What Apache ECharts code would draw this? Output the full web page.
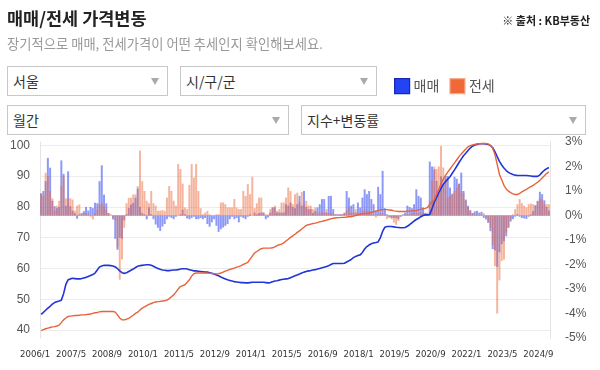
<!DOCTYPE html>
<html><head><meta charset="utf-8">
<script src="https://cdn.jsdelivr.net/npm/echarts@6/dist/echarts.min.js"></script>
<style>
html,body{margin:0;padding:0;background:#fff;}
#wrap{position:relative;width:600px;height:370px;overflow:hidden;font-family:'Noto Sans CJK KR','Noto Sans',sans-serif;}
#chart{position:absolute;left:0;top:0;width:600px;height:370px;}
.t{position:absolute;white-space:nowrap;z-index:3;}
.sel{position:absolute;box-sizing:border-box;border:1px solid #c8c8c8;background:#fff;height:30px;font-size:14px;color:#333;line-height:28px;padding-left:5px;z-index:3;}
.sel .ar{position:absolute;right:8px;top:11px;width:0;height:0;border-left:4px solid transparent;border-right:4px solid transparent;border-top:7px solid #aaa;}
</style></head>
<body>
<div id="wrap">
  <div id="chart"></div>
  <div class="t" style="left:7px;top:6px;font-size:17.5px;font-weight:bold;color:#222;line-height:24px;">매매/전세 가격변동</div>
  <div class="t" style="left:7px;top:35px;font-size:13.3px;color:#999;line-height:18px;">장기적으로 매매, 전세가격이 어떤 추세인지 확인해보세요.</div>
  <div class="t" style="right:10px;top:12px;font-size:11px;font-weight:bold;color:#222;line-height:16px;">※ 출처 : KB부동산</div>
  <div class="sel" style="left:7px;top:66px;width:161px;">서울<div class="ar"></div></div>
  <div class="sel" style="left:180px;top:66px;width:197px;">시/구/군<div class="ar"></div></div>
  <div class="sel" style="left:7px;top:105px;width:282px;">월간<div class="ar"></div></div>
  <div class="sel" style="left:301px;top:105px;width:285px;">지수+변동률<div class="ar"></div></div>
</div>
<script>
// ---- data ----
const startYear = 2006;
const monthCount = 227; // 2006/1 ~ 2024/11
const months = [];
for (let k = 0; k < monthCount; k++) {
  months.push((startYear + Math.floor(k / 12)) + '/' + (k % 12 + 1));
}
const xTickLabels = ['2006/1','2007/5','2008/9','2010/1','2011/5','2012/9','2014/1','2015/5','2016/9','2018/1','2019/5','2020/9','2022/1','2023/5','2024/9'];
const leftTicks = [40, 50, 60, 70, 80, 90, 100];

// 매매 지수
const saleIdx = [
45.1,45.7,46.4,47.1,47.7,48.4,48.9,49.2,49.4,49.7,51.8,54.8,
56.3,56.6,56.8,56.7,56.6,56.6,56.7,56.9,57.1,57.4,57.7,58.0,
58.5,59.5,60.5,60.8,61.0,61.0,61.0,60.9,60.8,60.5,59.9,59.2,
58.6,58.4,58.6,59.0,59.4,59.8,60.3,60.7,60.9,61.0,61.1,61.2,
61.2,61.0,60.7,60.3,60.0,59.7,59.5,59.4,59.3,59.3,59.4,59.5,
59.5,59.6,59.8,59.9,59.9,59.8,59.6,59.4,59.2,59.2,59.1,59.0,
58.9,58.8,58.8,58.6,58.4,58.2,57.9,57.6,57.2,56.9,56.6,56.3,
56.1,55.9,55.7,55.6,55.5,55.4,55.4,55.3,55.3,55.4,55.5,55.5,
55.5,55.5,55.5,55.5,55.4,55.3,55.4,55.7,55.9,56.0,56.2,56.4,
56.5,56.6,56.7,57.0,57.3,57.6,57.9,58.2,58.5,58.8,59.0,59.2,
59.3,59.5,59.6,59.8,60.0,60.2,60.4,60.6,60.9,61.3,61.6,61.6,
61.6,61.6,61.6,61.7,62.1,62.5,62.9,63.5,63.9,64.2,64.4,65.2,
66.3,67.1,67.6,68.0,68.3,68.4,68.6,70.0,72.0,73.4,73.6,73.6,
73.6,73.5,73.4,73.3,73.2,73.2,73.3,73.7,74.2,74.8,75.4,75.9,
76.3,76.8,77.2,77.4,77.4,77.5,79.5,81.5,83.0,84.6,86.0,87.3,
88.2,89.0,89.8,90.9,92.0,93.2,94.4,95.5,96.6,97.4,98.3,99.1,
99.7,100.1,100.3,100.5,100.5,100.5,100.4,100.3,99.9,99.2,97.9,96.3,
94.8,93.6,92.6,91.8,91.2,90.8,90.5,90.3,90.2,90.2,90.2,90.2,
90.2,90.1,90.0,89.9,89.9,89.9,90.4,91.2,91.9,92.4,92.8
];
// 전세 지수
const jeonseIdx = [
39.8,40.1,40.4,40.6,40.8,41.0,41.1,41.3,41.6,42.4,43.3,43.9,
44.4,44.5,44.6,44.7,44.7,44.8,44.9,44.9,45.0,45.1,45.2,45.4,
45.6,45.7,45.9,46.0,46.0,46.0,46.0,46.0,46.0,45.8,44.9,43.9,
43.3,43.3,43.5,43.8,44.3,44.8,45.4,45.8,46.5,47.1,47.5,47.9,
48.3,48.6,48.9,49.1,49.2,49.3,49.4,49.5,49.7,50.2,50.8,51.4,
52.3,53.3,54.1,54.4,54.7,55.5,56.3,57.5,58.3,58.5,58.5,58.5,
58.5,58.5,58.5,58.4,58.4,58.3,58.2,58.3,58.5,58.8,59.1,59.4,
59.7,59.9,60.1,60.4,60.6,60.9,61.3,61.6,62.0,63.0,64.0,65.0,
65.5,66.0,66.4,66.6,66.6,66.6,66.6,66.7,67.0,67.4,67.7,67.9,
68.3,68.9,69.5,70.1,70.6,71.1,71.7,72.2,72.8,73.4,74.0,74.2,
74.4,74.6,74.7,74.9,75.1,75.3,75.5,75.7,75.9,76.1,76.3,76.4,
76.5,76.5,76.6,76.6,76.7,76.8,76.8,77.0,77.2,77.4,77.6,77.8,
77.8,77.9,78.0,78.2,78.4,78.6,78.8,79.0,79.1,79.1,79.1,79.0,
78.9,78.7,78.6,78.5,78.5,78.5,78.5,78.6,78.6,78.7,78.7,78.8,
79.0,79.2,79.4,79.5,79.8,80.8,81.6,82.3,84.0,85.7,87.5,89.0,
90.2,91.3,92.3,93.3,94.3,95.3,96.3,97.2,98.0,98.8,99.5,99.9,
100.1,100.3,100.4,100.5,100.6,100.6,100.6,100.4,100.0,99.0,97.0,93.8,
90.5,88.8,87.0,85.8,85.1,84.6,84.2,84.0,84.0,84.4,84.9,85.3,
85.7,86.2,86.6,87.0,87.5,88.0,88.6,89.4,90.1,90.8,91.4
];
// 매매 변동률 (%)
const saleChg = [
0.9,1.0,1.4,2.35,1.95,0.6,0.38,0.3,0.35,2.25,1.7,0.4,
1.8,0.38,0.2,0.1,-0.13,0.05,0.1,0.18,0.35,0.2,0.35,0.3,
0.52,0.5,1.4,2.05,0.85,0.5,0.1,0.0,-0.16,-0.95,-1.4,-0.9,
-0.95,-0.2,0.05,0.31,0.45,0.52,0.72,1.1,0.35,0.1,0.05,-0.16,
0.33,0.05,-0.15,-0.37,-0.5,-0.63,-0.45,-0.35,-0.15,-0.05,-0.1,-0.15,
-0.05,0.0,0.05,0.24,0.05,-0.12,-0.15,-0.1,-0.05,-0.15,-0.15,-0.1,
-0.15,-0.1,-0.35,-0.46,-0.28,-0.15,-0.42,-0.67,-0.56,-0.49,-0.42,-0.35,
-0.15,-0.05,-0.15,-0.1,-0.28,-0.05,-0.1,-0.15,-0.05,0.05,0.0,0.12,
0.05,0.1,0.12,0.12,-0.15,-0.08,0.12,0.33,0.33,0.12,0.12,0.12,
0.12,0.46,0.4,0.53,0.35,0.3,0.46,0.8,0.4,1.0,0.35,0.26,
0.26,0.1,0.19,0.33,0.46,0.67,0.67,0.12,0.8,0.8,0.26,0.05,
0.05,0.05,0.05,0.1,1.0,0.73,0.4,0.46,0.12,0.53,0.33,0.73,
1.07,0.87,1.0,0.67,0.46,0.2,1.17,0.87,1.82,0.3,0.05,-0.08,
-0.1,-0.1,-0.1,-0.15,-0.05,0.05,0.12,0.4,0.35,0.3,0.46,1.07,
0.8,0.73,0.33,0.1,0.05,2.2,2.0,1.88,1.41,0.92,1.6,1.33,
1.61,1.61,1.14,0.87,1.58,1.5,1.3,1.75,1.0,0.65,0.4,0.22,
0.1,0.17,0.19,0.12,0.15,-0.1,-0.16,-0.3,-0.64,-1.37,-1.42,-2.1,
-1.5,-1.17,-1.05,-0.85,-0.5,-0.25,-0.15,-0.05,0.05,-0.05,-0.1,-0.12,
-0.14,-0.05,0.04,0.18,0.42,0.6,0.97,0.87,0.62,0.35,0.2
];
// 전세 변동률 (%)
const jeonseChg = [
0.9,0.8,1.74,1.6,1.0,0.7,0.2,0.4,0.6,1.2,1.6,0.7,
0.7,0.7,0.65,0.2,0.4,0.45,0.05,0.1,0.1,0.05,-0.05,-0.16,
0.1,0.25,0.45,0.5,0.38,0.25,0.1,0.05,-0.05,-0.2,-1.3,-2.62,
-1.8,-0.5,0.5,0.72,0.72,0.86,0.86,1.2,2.65,1.4,1.0,0.6,
0.5,1.0,0.5,0.4,0.19,0.2,0.22,0.19,0.73,1.2,1.0,0.6,
0.4,2.1,1.9,1.3,0.33,0.26,1.25,2.1,1.55,2.1,1.0,0.3,
0.05,0.12,0.19,0.05,0.0,0.0,0.05,0.05,0.53,0.53,0.46,0.33,
0.33,0.33,0.67,0.33,0.26,0.26,1.0,0.8,1.28,0.87,1.58,0.3,
0.5,0.73,0.73,0.12,0.05,0.05,0.26,0.33,0.4,0.19,0.26,0.53,
0.53,0.73,1.14,1.0,0.46,0.87,0.93,0.53,0.96,0.46,0.6,0.4,
0.4,0.26,0.33,0.12,0.12,0.12,0.12,0.26,0.12,0.1,0.08,0.05,
0.05,0.05,0.05,0.12,0.2,0.33,0.12,0.12,0.26,0.12,0.05,0.2,
0.26,0.19,0.19,0.1,0.05,-0.08,0.05,0.1,0.1,0.05,-0.15,-0.05,
-0.15,-0.29,-0.38,-0.22,-0.05,0.0,0.05,0.05,0.05,0.1,0.1,0.12,
0.12,0.12,0.12,0.12,0.12,0.6,1.42,2.0,1.9,2.0,2.84,1.96,
1.5,0.73,0.8,0.9,1.0,1.14,1.3,1.0,0.92,0.6,0.33,0.2,
0.1,0.05,0.04,0.02,0.05,0.1,-0.05,-0.25,-0.5,-1.2,-2.07,-4.0,
-2.65,-1.86,-1.8,-0.7,-0.49,-0.15,0.05,0.26,0.46,0.67,0.5,0.4,
0.33,0.46,0.49,0.46,0.4,0.58,0.7,0.65,0.46,0.46,0.46
];

const FONT = "'Noto Sans CJK KR','Noto Sans',sans-serif";
const chart = echarts.init(document.getElementById('chart'), null, {renderer: 'canvas'});
chart.setOption({
  animation: false,
  textStyle: {fontFamily: FONT},
  legend: {
    left: 389, top: 73, itemWidth: 15, itemHeight: 15, itemGap: 10, selectedMode: false,
    textStyle: {fontSize: 14, color: '#555', fontFamily: FONT, padding: [0, 0, 0, -1]},
    data: [
      {name: '매매', icon: 'rect', itemStyle: {color: '#2443f5', opacity: 1, borderColor: '#1428b0', borderWidth: 1.2}},
      {name: '전세', icon: 'rect', itemStyle: {color: '#f06838', opacity: 1, borderColor: '#f7ab8c', borderWidth: 1.2}}
    ]
  },
  grid: {left: 40, right: 50, top: 142, bottom: 32},
  xAxis: {
    type: 'category', data: months, boundaryGap: true,
    axisLine: {lineStyle: {color: '#dcdcdc'}},
    axisTick: {show: false},
    axisLabel: {
      interval: function (i, v) { return xTickLabels.indexOf(v) >= 0; },
      fontSize: 9.5, color: '#333', margin: 12, padding: [0, 12, 0, 0],
      fontFamily: "'Liberation Sans Narrow','DejaVu Sans Condensed','Liberation Sans',sans-serif"
    },
    splitLine: {show: false}
  },
  yAxis: [
    {
      type: 'value', position: 'left', min: 37.4, max: 101.07,
      axisLine: {show: true, lineStyle: {color: '#e4e4e4'}},
      axisTick: {show: false, customValues: leftTicks},
      axisLabel: {customValues: leftTicks, fontSize: 12, color: '#555', margin: 10, fontFamily: "'Liberation Sans',sans-serif"},
      splitLine: {show: true, lineStyle: {color: '#ececec'}}
    },
    {
      type: 'value', position: 'right', min: -5, max: 3, interval: 1,
      axisLine: {show: true, lineStyle: {color: '#e4e4e4'}},
      axisTick: {show: false},
      axisLabel: {formatter: '{value}%', fontSize: 12, color: '#555', margin: 15, fontFamily: "'Liberation Sans',sans-serif"},
      splitLine: {show: false}
    }
  ],
  series: [
    {name: '매매', type: 'bar', yAxisIndex: 1, data: saleChg, barGap: '-100%', barCategoryGap: '12%',
     itemStyle: {color: 'rgba(50,70,240,0.55)'}},
    {name: '전세', type: 'bar', yAxisIndex: 1, data: jeonseChg, barGap: '-100%', barCategoryGap: '12%',
     itemStyle: {color: 'rgba(236,106,60,0.5)'}},
    {name: '매매지수', type: 'line', yAxisIndex: 0, data: saleIdx, showSymbol: false, z: 5,
     lineStyle: {color: '#2236d8', width: 1.6}},
    {name: '전세지수', type: 'line', yAxisIndex: 0, data: jeonseIdx, showSymbol: false, z: 5,
     lineStyle: {color: '#e8623a', width: 1.4}}
  ]
});
</script>
</body></html>
